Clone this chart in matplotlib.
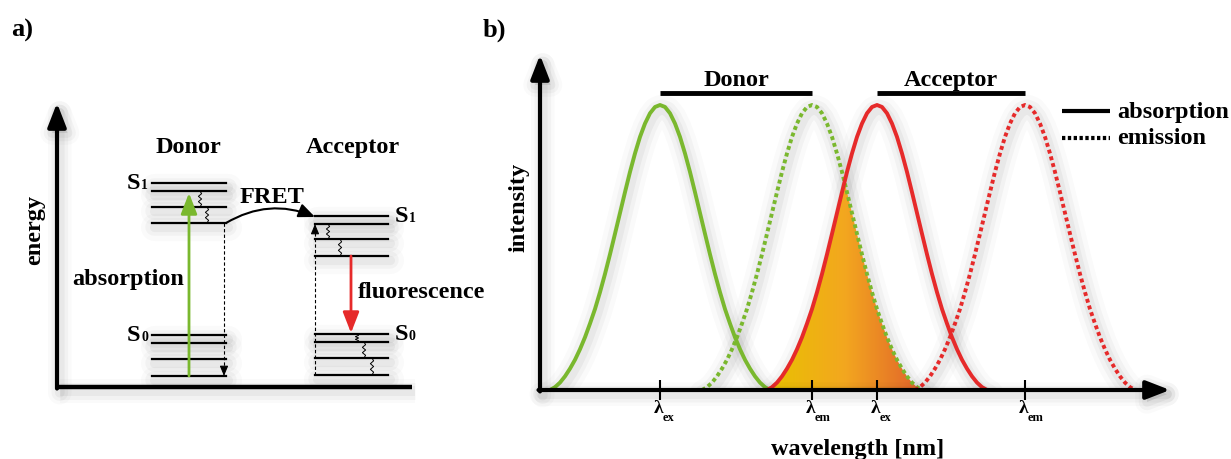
import numpy as np
import matplotlib
matplotlib.use('Agg')
import matplotlib.pyplot as plt
import matplotlib.patheffects as pe
import matplotlib.transforms as mtransforms
from matplotlib.colors import LinearSegmentedColormap

plt.rcParams['font.family'] = ['Liberation Serif', 'DejaVu Serif']
plt.rcParams['font.weight'] = 'bold'

W, H = 1231, 459
GREEN = '#7ab82e'
RED = '#e62a2a'
FS = 17.5

######################################
### Panel a data (arbitrary energy) ###
######################################
donor_x = [95, 169]
acceptor_x = [258, 331]
donor_s1 = [204, 196, 180, 164]
donor_s0 = [52, 44, 28, 11]
acceptor_s1 = [171, 163, 148, 131]
acceptor_s0 = [53, 45, 29, 12]
# relaxation wiggles: (x, upper level, lower level)
wiggle_x = [143, 150, 271, 283, 300, 307, 315]
wiggle_top = [196, 180, 163, 148, 53, 45, 29]
wiggle_bot = [180, 164, 148, 131, 45, 29, 12]

######################################
### Panel b data (spectra)          ###
######################################
band_offset = [-110, -105, -100, -95, -90, -85, -80, -75, -70, -65, -60, -55, -50,
               -45, -40, -35, -30, -25, -20, -15, -10, -5, 0,
               5, 10, 15, 20, 25, 30, 35, 40, 45, 50, 55, 60, 65, 70, 75, 80,
               85, 90, 95, 100, 105, 110]
band_shape = [0.000, 0.010, 0.026, 0.048, 0.075, 0.106, 0.143, 0.185, 0.233, 0.284,
              0.343, 0.407, 0.476, 0.548, 0.621, 0.694, 0.765, 0.830, 0.888, 0.935,
              0.971, 0.993, 1.000,
              0.993, 0.971, 0.935, 0.888, 0.830, 0.765, 0.694, 0.621, 0.548, 0.476,
              0.407, 0.343, 0.284, 0.233, 0.185, 0.143, 0.106, 0.075, 0.048, 0.026,
              0.010, 0.000]
peak_centers = [120, 272, 337, 485]
peak_kind = ['absorption', 'emission', 'absorption', 'emission']
peak_color = [GREEN, GREEN, RED, RED]
peak_sub = ['ex', 'em', 'ex', 'em']

DOTS = (0, (1.0, 0.8))


def shadow(w):
    fx = []
    for extra, a in ((14, 0.02), (9, 0.03), (4, 0.04)):
        fx.append(pe.Stroke(offset=(2, -3), linewidth=w + extra, foreground='k', alpha=a))
    fx.append(pe.Normal())
    return fx


def soft_shadow(ax, x, y, lw):
    tr = mtransforms.offset_copy(ax.transData, fig=fig, x=2, y=-4, units='dots')
    for extra, a in ((18, 0.02), (11, 0.03), (5, 0.04)):
        ax.plot(x, y, color='k', lw=lw + extra, alpha=a, transform=tr,
                solid_capstyle='round', zorder=0.5)


fig = plt.figure(figsize=(W / 100, H / 100), dpi=100)
fig.text(22 / W, 1 - 30 / H, 'a)', fontsize=19, ha='center', va='center')
fig.text(494 / W, 1 - 30 / H, 'b)', fontsize=19, ha='center', va='center')

######################################
### Panel a: energy diagram         ###
######################################
axa = fig.add_axes([57 / W, (H - 387) / H, 355 / W, 284 / H])
axa.set_xlim(0, 355)
axa.set_ylim(0, 284)
axa.axis('off')

axa.plot([0, 355], [0, 0], color='k', lw=3.2, solid_capstyle='butt',
         path_effects=shadow(3.2), clip_on=False)
arr = axa.annotate('', xy=(0, 284), xytext=(0, -1.5),
                   arrowprops=dict(arrowstyle='-|>,head_length=0.9,head_width=0.35', lw=3,
                                   color='k', mutation_scale=16, shrinkA=0, shrinkB=0))
arr.arrow_patch.set_path_effects(shadow(3))

for lv in donor_s1 + donor_s0:
    axa.plot(donor_x, [lv, lv], color='k', lw=1.6)
    soft_shadow(axa, donor_x, [lv, lv], 1.6)
for lv in acceptor_s1 + acceptor_s0:
    axa.plot(acceptor_x, [lv, lv], color='k', lw=1.6)
    soft_shadow(axa, acceptor_x, [lv, lv], 1.6)

zig = np.array([0, 1.6, -1.6, 1.6, -1.6, 1.6, 0])
for x, yt, yb in zip(wiggle_x, wiggle_top, wiggle_bot):
    axa.plot(x + zig, np.linspace(yt, yb, len(zig)), color='k', lw=0.7)

# absorption and fluorescence
axa.annotate('', xy=(132, donor_s1[1] - 2), xytext=(132, donor_s0[-1]),
             arrowprops=dict(arrowstyle='-|>,head_length=0.9,head_width=0.35', color=GREEN,
                             lw=2, mutation_scale=14, shrinkA=0, shrinkB=0))
axa.annotate('', xy=(294, acceptor_s0[0] + 1), xytext=(294, acceptor_s1[-1]),
             arrowprops=dict(arrowstyle='-|>,head_length=0.9,head_width=0.35', color=RED,
                             lw=2, mutation_scale=14, shrinkA=0, shrinkB=0))

# dashed energy transfer paths
axa.plot([167, 167], [donor_s1[-1], donor_s0[-1] + 6], color='k', lw=0.8, ls=(0, (3, 2)))
axa.annotate('', xy=(167, donor_s0[-1]), xytext=(167, donor_s0[-1] + 7),
             arrowprops=dict(arrowstyle='-|>,head_length=0.6,head_width=0.25', color='k',
                             lw=0.8, mutation_scale=10, shrinkA=0, shrinkB=0))
axa.plot([258, 258], [acceptor_s0[-1], acceptor_s1[1] - 6], color='k', lw=0.8, ls=(0, (3, 2)))
axa.annotate('', xy=(258, acceptor_s1[1]), xytext=(258, acceptor_s1[1] - 7),
             arrowprops=dict(arrowstyle='-|>,head_length=0.6,head_width=0.25', color='k',
                             lw=0.8, mutation_scale=10, shrinkA=0, shrinkB=0))

# FRET arc
axa.annotate('', xy=(258, acceptor_s1[0] - 1), xytext=(donor_x[1], donor_s1[-1]),
             arrowprops=dict(arrowstyle='-|>,head_length=0.7,head_width=0.3', color='k',
                             lw=1.5, mutation_scale=14, shrinkA=0, shrinkB=0,
                             connectionstyle='arc3,rad=-0.25'))

axa.text(131, 234, 'Donor', fontsize=FS, ha='center', va='baseline')
axa.text(296, 234, 'Acceptor', fontsize=FS, ha='center', va='baseline')
axa.text(215, 184, 'FRET', fontsize=FS, ha='center', va='baseline')
axa.text(71, 102, 'absorption', fontsize=FS, ha='center', va='baseline')
axa.text(301, 89, 'fluorescence', fontsize=FS, ha='left', va='baseline')
axa.text(-22, 157, 'energy', fontsize=FS, ha='center', va='center', rotation=90)


def state_label(ax, x, y, digit, side):
    if side == 'right':
        ax.text(x, y - 6, digit, fontsize=10, ha='right', va='baseline')
        ax.annotate('S', xy=(x, y - 6), xytext=(-5.5, 0), textcoords='offset points',
                    fontsize=FS, ha='right', va='baseline')
    else:
        ax.text(x, y - 6, 'S', fontsize=FS, ha='left', va='baseline')
        ax.annotate(digit, xy=(x, y - 6), xytext=(10, 0), textcoords='offset points',
                    fontsize=10, ha='left', va='baseline')


state_label(axa, 91, donor_s1[0], '1', 'right')
state_label(axa, 91, donor_s0[0], '0', 'right')
state_label(axa, 338, acceptor_s1[0], '1', 'left')
state_label(axa, 338, acceptor_s0[0], '0', 'left')

######################################
### Panel b: spectral overlap       ###
######################################
axb = fig.add_axes([540 / W, (H - 390) / H, 630 / W, 335 / H])
axb.set_xlim(0, 630)
axb.set_ylim(0, 335 / 285)
axb.axis('off')

offs = np.array(band_offset)
shape = np.array(band_shape)
curves = [(c + offs, shape) for c in peak_centers]

# overlap integral (donor emission x acceptor absorption)
gx = np.linspace(curves[2][0][0], curves[1][0][-1], 300)
top = np.minimum(np.interp(gx, *curves[2]), np.interp(gx, *curves[1]))
poly = axb.fill_between(gx, 0, top, color='none', lw=0)
cmap = LinearSegmentedColormap.from_list('ov', ['#e8c200', '#f3a71f', '#e1622b'])
img = axb.imshow(np.linspace(0, 1, 256)[None, :], cmap=cmap, aspect='auto',
                 extent=[gx[0], gx[-1], 0, top.max()], zorder=1)
img.set_clip_path(poly.get_paths()[0], transform=axb.transData)

for (cx, cy), kind, col in zip(curves, peak_kind, peak_color):
    soft_shadow(axb, cx, cy, 2.8)
    if kind == 'absorption':
        axb.plot(cx, cy, color=col, lw=2.8, zorder=3)
    else:
        axb.plot(cx, cy, color=col, lw=2.8, ls=DOTS, dash_capstyle='butt', zorder=2)

# axes with arrows
for xy, xyt in (((0, 335 / 285), (0, -0.005)), ((630, 0), (-1.5, 0))):
    a = axb.annotate('', xy=xy, xytext=xyt,
                     arrowprops=dict(arrowstyle='-|>,head_length=0.9,head_width=0.35', lw=3,
                                     color='k', mutation_scale=16, shrinkA=0, shrinkB=0))
    a.arrow_patch.set_path_effects(shadow(3))

axb.vlines(peak_centers, -0.035, 0.035, color='k', lw=1.5, clip_on=False, zorder=4)
for c, sub in zip(peak_centers, peak_sub):
    axb.text(c - 1, -0.081, 'λ', fontsize=14, ha='center', va='baseline')
    axb.text(c + 3, -0.11, sub, fontsize=9, ha='left', va='baseline')

# donor / acceptor bars
axb.plot(peak_centers[0:2], [1.043, 1.043], color='k', lw=3.5, solid_capstyle='butt')
axb.plot(peak_centers[2:4], [1.043, 1.043], color='k', lw=3.5, solid_capstyle='butt')
axb.text(np.mean(peak_centers[0:2]), 1.065, 'Donor', fontsize=FS, ha='center', va='baseline')
axb.text(np.mean(peak_centers[2:4]), 1.065, 'Acceptor', fontsize=FS, ha='center', va='baseline')

# legend
axb.plot([522, 570], [0.979, 0.979], color='k', lw=3, solid_capstyle='butt', clip_on=False)
axb.plot([522, 570], [0.884, 0.884], color='k', lw=3, ls=(0, (0.8, 0.6)),
         dash_capstyle='butt', clip_on=False)
axb.text(577, 0.954, 'absorption', fontsize=FS, ha='left', va='baseline')
axb.text(577, 0.862, 'emission', fontsize=FS, ha='left', va='baseline')

axb.text(-21, 0.64, 'intensity', fontsize=FS, ha='center', va='center', rotation=90)
axb.text(318, -0.228, 'wavelength [nm]', fontsize=FS, ha='center', va='baseline')

fig.savefig('out.png', dpi=100)
